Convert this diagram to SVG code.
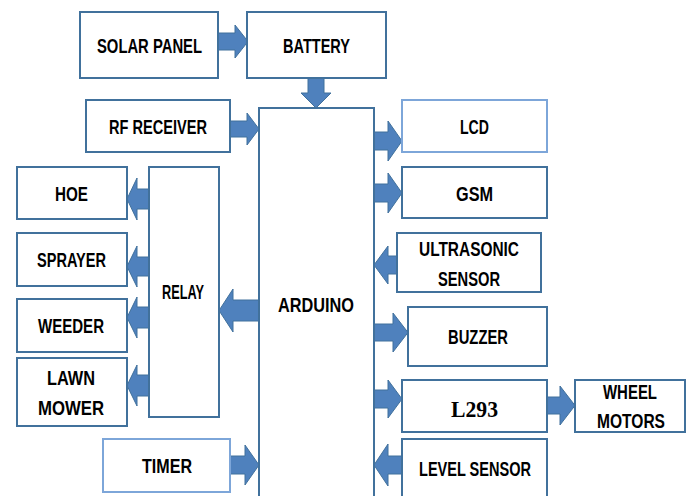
<svg xmlns="http://www.w3.org/2000/svg" width="690" height="496" viewBox="0 0 690 496">
<style>
.box{fill:#fff;stroke:#41719C;stroke-width:2}
.lt{stroke:#7DA6D9}
.arr{fill:#4F81BD;stroke:#41719C;stroke-width:1}
text{font-family:"Liberation Sans",Arial,sans-serif;font-weight:bold;font-size:20px;fill:#000;text-anchor:middle}
.serif{font-family:"Liberation Serif","Times New Roman",serif;font-size:23px}
</style>
<rect width="690" height="496" fill="#fff"/>
<g id="connectors">
<polygon class="arr" points="218,33 235,33 235,25 248,41.5 235,58 235,50 218,50"/>
<polygon class="arr" points="308,78 324,78 324,93 331,93 316,108 301,93 308,93"/>
<polygon class="arr" points="230,121 247,121 247,113 259,129 247,145 247,137 230,137"/>
<polygon class="arr" points="374,132 388,132 388,121 402,141 388,161 388,150 374,150"/>
<polygon class="arr" points="374,184 388,184 388,173 402,193 388,213 388,202 374,202"/>
<polygon class="arr" points="397,256 388,256 388,246 374,265 388,284 388,274 397,274"/>
<polygon class="arr" points="374,324 393,324 393,313 408,332.5 393,352 393,341 374,341"/>
<polygon class="arr" points="374,390 388,390 388,380 402,399 388,418 388,408 374,408"/>
<polygon class="arr" points="547,397 560,397 560,386 575,405.5 560,425 560,414 547,414"/>
<polygon class="arr" points="402,456 388,456 388,444 374,465 388,486 388,474 402,474"/>
<polygon class="arr" points="149,189 137,189 137,178 127,199 137,220 137,209 149,209"/>
<polygon class="arr" points="149,257 137,257 137,246 127,266.5 137,287 137,276 149,276"/>
<polygon class="arr" points="149,307 137,307 137,297 127,317.5 137,338 137,328 149,328"/>
<polygon class="arr" points="149,375 137,375 137,365 127,385.5 137,406 137,396 149,396"/>
<polygon class="arr" points="259,300 233,300 233,289 219,310.5 233,332 233,321 259,321"/>
<polygon class="arr" points="230,456 245,456 245,445 259,465 245,485 245,474 230,474"/>
</g>
<g id="solar"><rect class="box" x="80" y="12" width="138" height="66"/><text x="149.5" y="53" textLength="105" lengthAdjust="spacingAndGlyphs">SOLAR PANEL</text></g>
<g id="battery"><rect class="box" x="247" y="12" width="139" height="66"/><text x="316.5" y="53" textLength="67" lengthAdjust="spacingAndGlyphs">BATTERY</text></g>
<g id="rf"><rect class="box" x="86" y="100" width="144" height="52"/><text x="158" y="134" textLength="98" lengthAdjust="spacingAndGlyphs">RF RECEIVER</text></g>
<g id="arduino"><rect class="box" x="259" y="108" width="115" height="400"/><text x="316" y="312" textLength="76" lengthAdjust="spacingAndGlyphs">ARDUINO</text></g>
<g id="lcd"><rect class="box lt" x="402" y="100" width="145" height="52"/><text x="474.5" y="134" textLength="29" lengthAdjust="spacingAndGlyphs">LCD</text></g>
<g id="gsm"><rect class="box" x="402" y="167" width="145" height="51"/><text x="474.5" y="201" textLength="37" lengthAdjust="spacingAndGlyphs">GSM</text></g>
<g id="ultrasonic"><rect class="box" x="397" y="233" width="144" height="59"/><text x="469" y="256" textLength="100" lengthAdjust="spacingAndGlyphs">ULTRASONIC</text><text x="469" y="286" textLength="62" lengthAdjust="spacingAndGlyphs">SENSOR</text></g>
<g id="buzzer"><rect class="box" x="408" y="307" width="139" height="59"/><text x="478" y="344" textLength="60" lengthAdjust="spacingAndGlyphs">BUZZER</text></g>
<g id="l293"><rect class="box" x="402" y="380" width="145" height="52"/><text class="serif" x="474.5" y="417" textLength="47" lengthAdjust="spacingAndGlyphs">L293</text></g>
<g id="wheel"><rect class="box" x="575" y="380" width="110" height="52"/><text x="630" y="399" textLength="54" lengthAdjust="spacingAndGlyphs">WHEEL</text><text x="631" y="428" textLength="68" lengthAdjust="spacingAndGlyphs">MOTORS</text></g>
<g id="level"><rect class="box" x="402" y="439" width="145" height="70"/><text x="475" y="476" textLength="112" lengthAdjust="spacingAndGlyphs">LEVEL SENSOR</text></g>
<g id="hoe"><rect class="box" x="17" y="167" width="110" height="52"/><text x="71.5" y="201" textLength="33" lengthAdjust="spacingAndGlyphs">HOE</text></g>
<g id="sprayer"><rect class="box" x="17" y="233" width="110" height="53"/><text x="71.5" y="267" textLength="69" lengthAdjust="spacingAndGlyphs">SPRAYER</text></g>
<g id="weeder"><rect class="box" x="17" y="299" width="110" height="53"/><text x="71" y="333" textLength="66" lengthAdjust="spacingAndGlyphs">WEEDER</text></g>
<g id="lawn"><rect class="box" x="17" y="358" width="110" height="68"/><text x="71" y="385" textLength="48" lengthAdjust="spacingAndGlyphs">LAWN</text><text x="71" y="415" textLength="66" lengthAdjust="spacingAndGlyphs">MOWER</text></g>
<g id="relay"><rect class="box" x="149" y="167" width="70" height="250"/><text x="183" y="299" textLength="42" lengthAdjust="spacingAndGlyphs">RELAY</text></g>
<g id="timer"><rect class="box lt" x="103" y="439" width="127" height="53"/><text x="167" y="473" textLength="50" lengthAdjust="spacingAndGlyphs">TIMER</text></g>
</svg>
